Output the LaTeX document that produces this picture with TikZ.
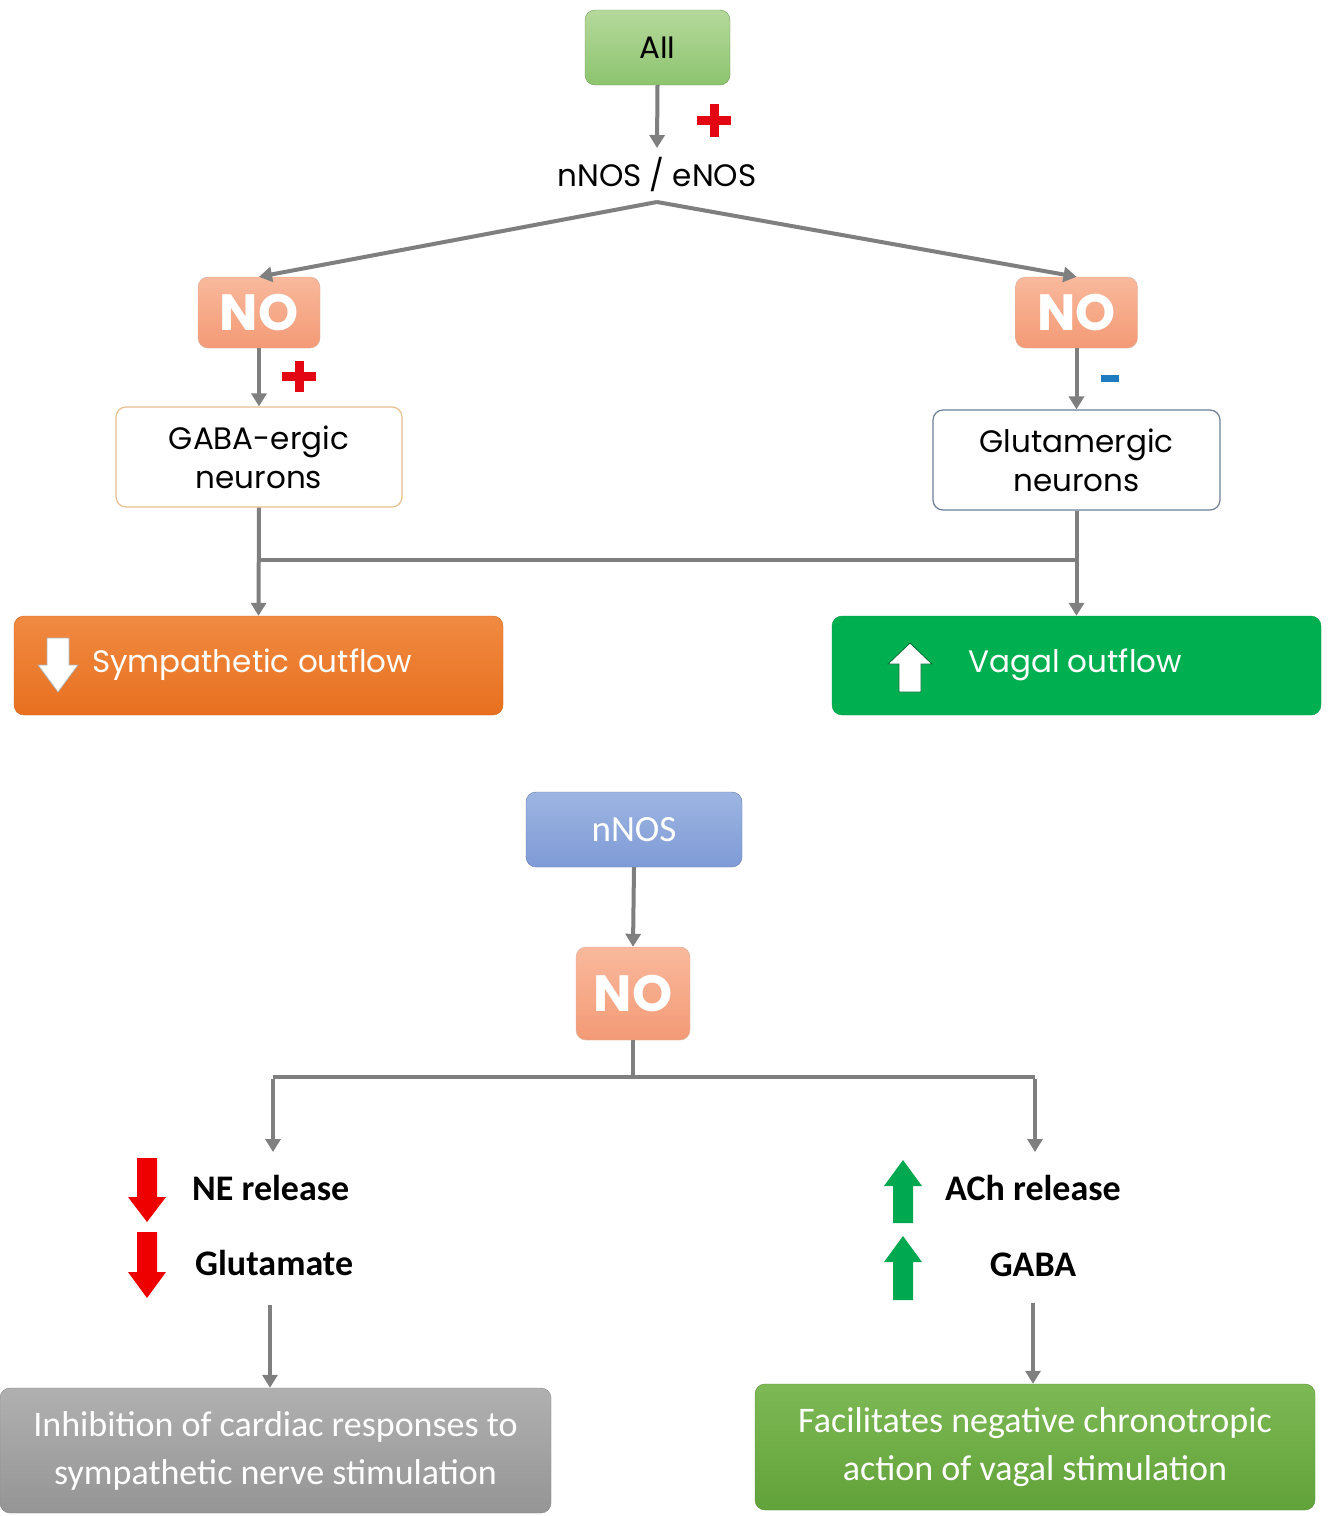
\documentclass[tikz,border=0pt]{standalone}
\usepackage{fontspec}
\setmainfont{Poppins}
\newfontfamily\calib{Carlito}
\usetikzlibrary{arrows.meta}
\definecolor{agray}{HTML}{7F7F7F}
\definecolor{aiiT}{HTML}{B5D99C}
\definecolor{aiiB}{HTML}{8DC46F}
\definecolor{noT}{HTML}{F9B99C}
\definecolor{noB}{HTML}{F39A76}
\definecolor{nnosT}{HTML}{9DB5E2}
\definecolor{nnosB}{HTML}{7F9BD6}
\definecolor{sympT}{HTML}{F08A42}
\definecolor{sympB}{HTML}{E8701F}
\definecolor{vagal}{HTML}{00B050}
\definecolor{grayT}{HTML}{B0B0B0}
\definecolor{grayB}{HTML}{959595}
\definecolor{facT}{HTML}{7DB955}
\definecolor{facB}{HTML}{62A23A}
\definecolor{redsign}{HTML}{E30613}
\definecolor{bluesign}{HTML}{1F7BC0}
\definecolor{redarr}{HTML}{EE0000}
\definecolor{greenarr}{HTML}{00A850}
\definecolor{gababorder}{HTML}{E6C08E}
\definecolor{glutborder}{HTML}{6A7F99}
\begin{document}
\begin{tikzpicture}[x=1pt,y=-1pt,
  conn/.style={draw=agray, line width=4pt, -{Triangle[width=15pt,length=13pt]}},
  plainline/.style={draw=agray, line width=4pt},
  rbox/.style={rounded corners=10pt, align=center, inner sep=0pt},
  nobox/.style={rbox, draw=noB!80!black!60, top color=noT, bottom color=noB, text=white,
     minimum width=122pt, minimum height=71pt, font=\fontsize{51}{54}\selectfont\bfseries},
  gothic/.style={font=\fontsize{31}{39}\selectfont},
  calibB/.style={font=\calib\fontsize{36}{40}\selectfont\bfseries},
  calibT/.style={font=\calib\fontsize{36}{48}\selectfont, text=white}
]
\useasboundingbox (0,0) rectangle (1331,1516);
\fill[white] (0,0) rectangle (1331,1516);

% top section
\node[rbox, draw=aiiB!80!black, top color=aiiT, bottom color=aiiB, minimum width=145pt, minimum height=75pt, gothic] (aii) at (657.5,47.5) {AII};
\node[gothic, inner sep=0pt] (nos) at (657,175) {nNOS / eNOS};
\coordinate (nosb) at (657,202);
\node[nobox] (noL) at (259,312.5) {NO};
\node[nobox] (noR) at (1076.5,312.5) {NO};
\node[rbox, draw=gababorder, line width=1.2pt, fill=white, minimum width=286pt, minimum height=100pt, gothic] (gaba) at (259,457) {GABA-ergic\\neurons};
\node[rbox, draw=glutborder, line width=1.2pt, fill=white, minimum width=287pt, minimum height=100pt, gothic] (glut) at (1076.5,460) {Glutamergic\\neurons};
\node[rbox, draw=sympB!90!black, top color=sympT, bottom color=sympB, minimum width=489pt, minimum height=99pt] (symp) at (258.5,665.5) {};
\node[rbox, draw=vagal!90!black, fill=vagal, minimum width=489pt, minimum height=99pt] (vag) at (1076.5,665.5) {};
\node[gothic, text=white, anchor=west, inner sep=0pt] (sympt) at (92,665) {Sympathetic outflow};
\node[gothic, text=white, anchor=west, inner sep=0pt] (vagt) at (968,665) {Vagal outflow};

\draw[conn] (aii.south) -- (657,148);
\fill[redsign] (697,116) rectangle (731,125);
\fill[redsign] (709.5,104) rectangle (718.5,137);
\draw[conn] (nosb) -- (noL.north);
\draw[conn] (nosb) -- (noR.north);
\draw[conn] (noL.south) -- (gaba.north);
\fill[redsign] (282,372) rectangle (316,381);
\fill[redsign] (294.5,361) rectangle (303.5,392);
\draw[conn] (noR.south) -- (glut.north);
\fill[bluesign] (1101,375) rectangle (1119,382);
\coordinate (jL) at (259,560);
\coordinate (jR) at (1076.5,560);
\draw[conn] (gaba.south) -- (symp.north);
\draw[conn] (glut.south) -- (vag.north);
\draw[plainline] (jL) -- (jR);

% block arrows in outflow boxes
\draw[agray!60, line width=0.8pt, fill=white] (47,638) -- (69,638) -- (69,665) -- (78,665) -- (58,692) -- (38,665) -- (47,665) -- cycle;
\draw[vagal!60!black, line width=0.8pt, fill=white] (910,643) -- (932,664) -- (921,664) -- (921,692) -- (899,692) -- (899,664) -- (888,664) -- cycle;

% bottom section
\node[rbox, draw=nnosB!80!black, top color=nnosT, bottom color=nnosB, minimum width=216pt, minimum height=75pt, text=white, font=\calib\fontsize{37}{40}\selectfont] (nnos) at (634,829.5) {nNOS};
\node[nobox, minimum width=114pt, minimum height=93pt] (no2) at (633,993.5) {NO};
\draw[conn] (nnos.south) -- (no2.north);
\coordinate (hb) at (633,1077);
\coordinate (hl) at (273,1077);
\coordinate (hr) at (1035,1077);
\coordinate (el) at (273,1152);
\coordinate (er) at (1035,1152);
\draw[plainline] (no2.south) -- (hb);
\draw[plainline] (hl) -- (hr);
\draw[conn] ([yshift=-2pt]hl) -- (el);
\draw[conn] ([yshift=-2pt]hr) -- (er);

\node[calibB, anchor=west, inner sep=0pt] (ne) at (192,1188) {NE release};
\node[calibB, anchor=west, inner sep=0pt] (glu) at (195,1263) {Glutamate};
\node[calibB, anchor=west, inner sep=0pt] (ach) at (945,1188) {ACh release};
\node[calibB, inner sep=0pt] (gab) at (1033,1265) {GABA};

\fill[redarr] (137,1158) -- (157,1158) -- (157,1197) -- (166,1197) -- (147,1222) -- (128,1197) -- (137,1197) -- cycle;
\fill[redarr] (137,1232) -- (157,1232) -- (157,1272) -- (166,1272) -- (147,1298) -- (128,1272) -- (137,1272) -- cycle;
\fill[greenarr] (903,1160) -- (922,1186) -- (913,1186) -- (913,1223) -- (893,1223) -- (893,1186) -- (884,1186) -- cycle;
\fill[greenarr] (903,1236) -- (922,1262) -- (913,1262) -- (913,1300) -- (893,1300) -- (893,1262) -- (884,1262) -- cycle;

\node[rbox, draw=grayB!90!black, top color=grayT, bottom color=grayB, minimum width=551pt, minimum height=125pt, calibT] (inh) at (275.5,1450.5) {Inhibition of cardiac responses to\\sympathetic nerve stimulation};
\node[rbox, draw=facB!90!black, top color=facT, bottom color=facB, minimum width=560pt, minimum height=126pt, calibT] (fac) at (1035,1447) {Facilitates negative chronotropic\\action of vagal stimulation};
\coordinate (sl) at (270,1305);
\coordinate (sr) at (1033,1303);
\draw[conn] (sl) -- (sl |- inh.north);
\draw[conn] (sr) -- (sr |- fac.north);
\end{tikzpicture}
\end{document}
